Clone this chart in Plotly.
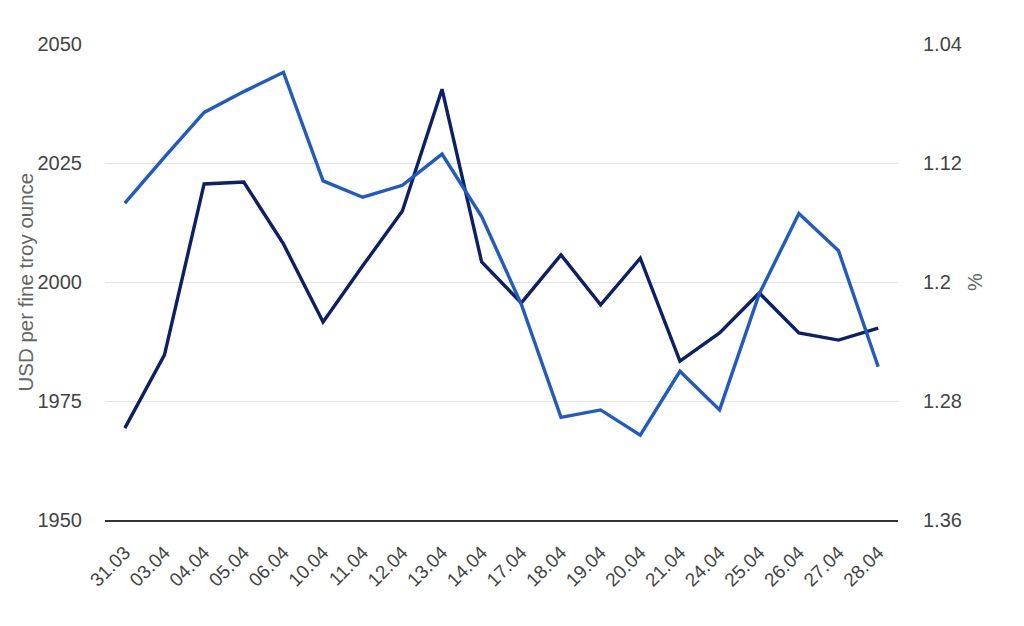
import plotly.graph_objects as go

dates = ["31.03", "03.04", "04.04", "05.04", "06.04", "10.04", "11.04", "12.04", "13.04", "14.04",
         "17.04", "18.04", "19.04", "20.04", "21.04", "24.04", "25.04", "26.04", "27.04", "28.04"]
gold_usd = [1969.3, 1984.7, 2020.6, 2021.0, 2008.0, 1991.6, 2003.4, 2014.9, 2040.5, 2004.2,
            1995.6, 2005.7, 1995.2, 2005.0, 1983.4, 1989.3, 1997.7, 1989.3, 1987.8, 1990.3]
rate_pct = [1.147, 1.116, 1.086, 1.072, 1.059, 1.132, 1.143, 1.135, 1.114, 1.156,
            1.215, 1.291, 1.286, 1.303, 1.260, 1.286, 1.208, 1.154, 1.179, 1.257]

left_ticks = [1950, 1975, 2000, 2025, 2050]
right_ticks = [1.04, 1.12, 1.2, 1.28, 1.36]
right_ticktext = ["1.04", "1.12", "1.2", "1.28", "1.36"]

FONT = "Arial, 'Liberation Sans', sans-serif"

fig = go.Figure()
fig.add_trace(go.Scatter(x=dates, y=gold_usd, mode="lines", name="Gold price",
                         line=dict(color="#0b1f6b", width=3.4), yaxis="y"))
fig.add_trace(go.Scatter(x=dates, y=rate_pct, mode="lines", name="%",
                         line=dict(color="#1e5ac8", width=3.4), yaxis="y2"))

fig.update_layout(
    width=1024, height=626,
    margin=dict(l=105, r=126, t=44, b=106),
    paper_bgcolor="white", plot_bgcolor="white",
    showlegend=False,
    font=dict(family=FONT, size=20, color="#444"),
    xaxis=dict(type="category", range=[-0.5, len(dates) - 0.5], showgrid=False, tickangle=-45,
               showline=True, linecolor="#333", linewidth=2,
               ticks="", tickfont=dict(size=19, color="#444"), ticklabelstandoff=12),
    yaxis=dict(range=[1950, 2050], tickvals=left_ticks, showgrid=True,
               gridcolor="#e3e3e3", gridwidth=1, zeroline=False,
               ticks="", tickfont=dict(size=20, color="#444"), ticklabelstandoff=22),
    yaxis2=dict(range=[1.36, 1.04], overlaying="y", side="right",
                tickvals=right_ticks, ticktext=right_ticktext, showgrid=False,
                zeroline=False, ticks="", tickfont=dict(size=20, color="#444"),
                ticklabelstandoff=24),
    annotations=[
        dict(text="USD per fine troy ounce", x=-0.1015, y=0.5, xref="paper", yref="paper",
             textangle=-90, showarrow=False, font=dict(size=20.5, color="#666"),
             xanchor="center", yanchor="middle"),
        dict(text="%", x=1.097, y=0.5, xref="paper", yref="paper",
             textangle=-90, showarrow=False, font=dict(size=20, color="#666"),
             xanchor="center", yanchor="middle"),
    ],
)

fig.write_html("out.html")
